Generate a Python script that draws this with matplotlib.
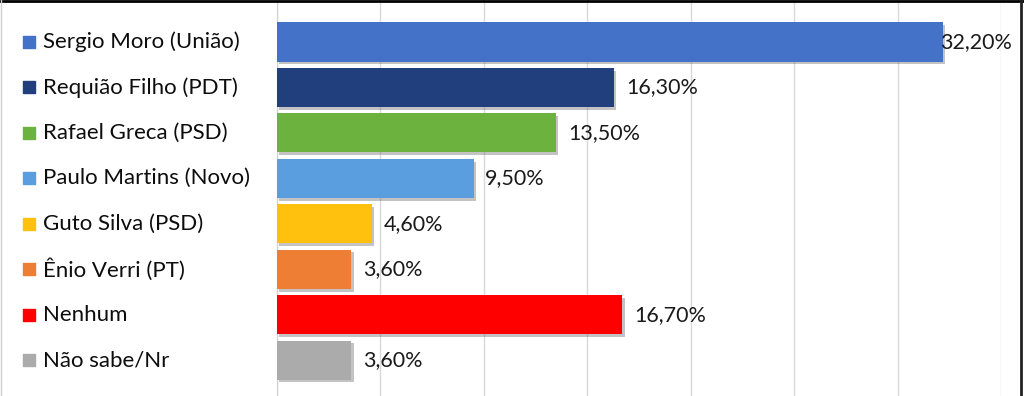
import matplotlib
matplotlib.use("Agg")
import matplotlib.pyplot as plt
import matplotlib.patheffects as pe
from matplotlib.lines import Line2D
import matplotlib.transforms as mtransforms

categories = ["Sergio Moro (União)", "Requião Filho (PDT)", "Rafael Greca (PSD)",
              "Paulo Martins (Novo)", "Guto Silva (PSD)", "Ênio Verri (PT)",
              "Nenhum", "Não sabe/Nr"]
values = [32.2, 16.3, 13.5, 9.5, 4.6, 3.6, 16.7, 3.6]
value_labels = ["32,20%", "16,30%", "13,50%", "9,50%", "4,60%", "3,60%", "16,70%", "3,60%"]
colors = ["#4472C8", "#213F7C", "#6BB23E", "#5B9EDF", "#FFC10E", "#EE7E34", "#FF0000", "#ABABAB"]
xticks = [0, 5, 10, 15, 20, 25, 30, 35]

plt.rcParams['font.family'] = ['Lato', 'DejaVu Sans']

W, H = 1024, 396
fig = plt.figure(figsize=(W / 100, H / 100), dpi=100)
fig.patch.set_facecolor("white")
ax = fig.add_axes([277 / W, 0, (1001 - 277) / W, 1])

ypos = list(range(len(categories)))
bars = ax.barh(ypos, values, height=0.86, color=colors, zorder=3)
for b in bars:
    b.set_path_effects([pe.SimplePatchShadow(offset=(1.5, -2), alpha=0.35, shadow_rgbFace="#555555"),
                        pe.Normal()])

xmax = 35
ax.set_xlim(0, xmax)
ax.set_ylim(7.79, -0.925)
ax.set_xticks(xticks)
ax.set_yticks([])
ax.tick_params(axis="x", length=0, labelbottom=False)
ax.grid(axis="x", color="#d9d9d9", lw=1, zorder=0)
for s in ["top", "right", "bottom"]:
    ax.spines[s].set_visible(False)
ax.spines["left"].set_color("#d0d0d0")

for y, v, lab in zip(ypos, values, value_labels):
    if v > 0.85 * xmax:
        # label does not fit outside: pin it to the right edge, over the bar end
        ax.annotate(lab, xy=(xmax, y), xytext=(8, 0), textcoords="offset points",
                    va="center", ha="right", fontsize=15.5, color="#1a1a1a", zorder=5,
                    annotation_clip=False)
    else:
        ax.annotate(lab, xy=(v, y), xytext=(8.5, 0), textcoords="offset points",
                    va="center", ha="left", fontsize=15.5, color="#1a1a1a", zorder=5)

trans = mtransforms.blended_transform_factory(fig.transFigure, ax.transData)
for y, cat, c in zip(ypos, categories, colors):
    ax.scatter([28.5 / W], [y], s=80, marker="s", color=c, transform=trans, clip_on=False)
    ax.text(43 / W, y, cat, transform=trans, va="center", ha="left",
            fontsize=16, color="#0d0d0d")

# image frame
fig.add_artist(Line2D([0, 1], [1 - 1 / H, 1 - 1 / H], transform=fig.transFigure, color="black", lw=2))
fig.add_artist(Line2D([1 - 3 / W, 1 - 3 / W], [0, 1], transform=fig.transFigure, color="#222222", lw=2))
fig.add_artist(Line2D([0.6 / W, 0.6 / W], [0, 1], transform=fig.transFigure, color="#cfcfcf", lw=1))

fig.savefig("out.png", dpi=100, facecolor="white")
